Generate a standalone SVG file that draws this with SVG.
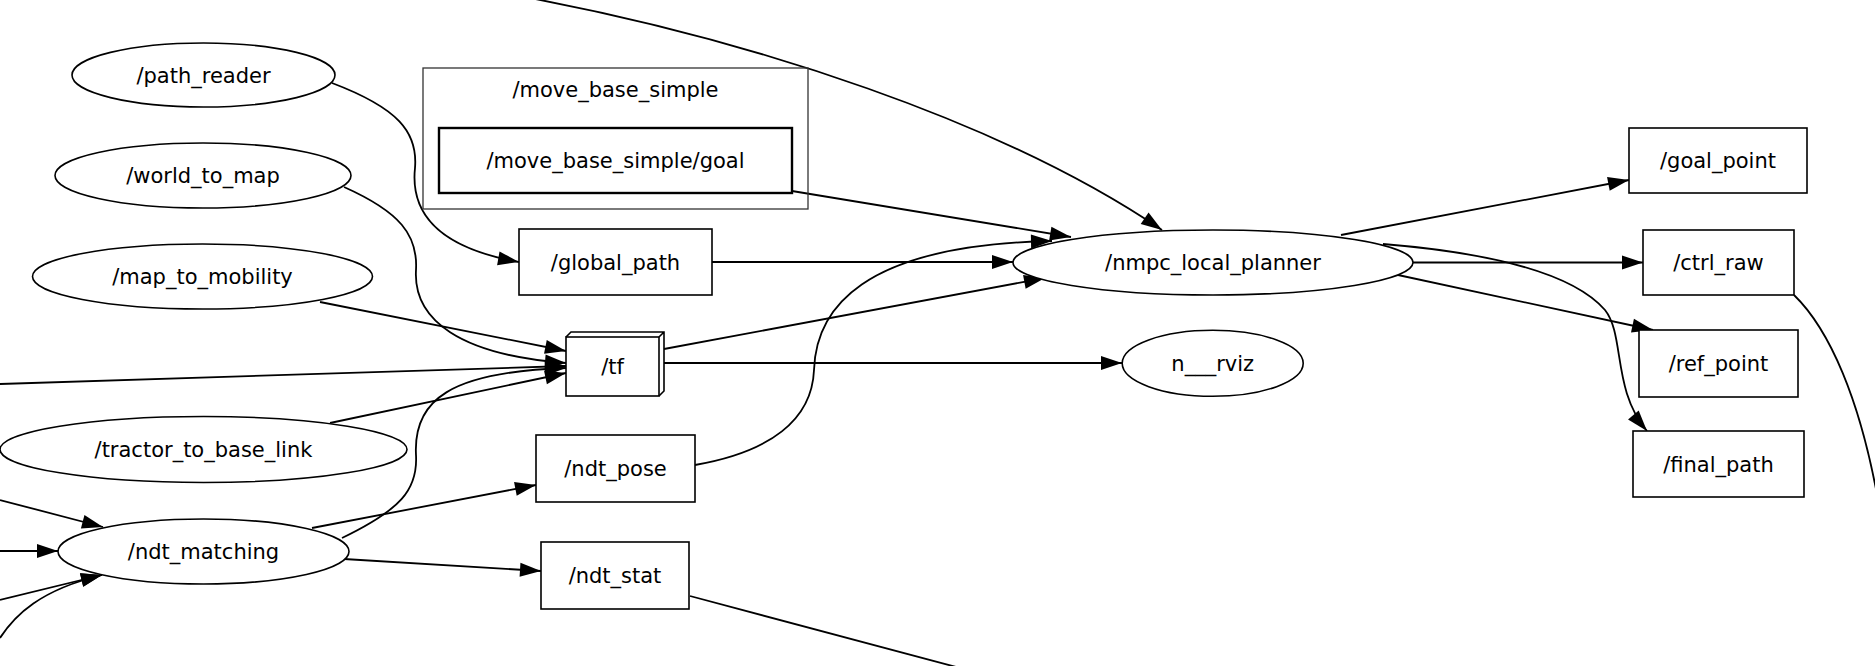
<svg xmlns="http://www.w3.org/2000/svg" width="1875" height="666" viewBox="0 0 1875 666">
<defs>
<marker id="arr" markerUnits="userSpaceOnUse" markerWidth="21" markerHeight="14" refX="21" refY="7" orient="auto" overflow="visible">
<path d="M0,0 L21,7 L0,14 z" fill="#000"/>
</marker>
<style>
.n{fill:#fff;stroke:#000;stroke-width:1.6}
.t{font-family:"DejaVu Sans",sans-serif;font-size:21px;fill:#000;text-anchor:middle}
.e{fill:none;stroke:#000;stroke-width:1.8}
.a{marker-end:url(#arr)}
</style>
</defs>
<rect width="1875" height="666" fill="#fff"/>

<g id="connectors">
<path class="e" d="M530,-2 C750,40 1000,120 1162,230" marker-end="url(#arr)"/>
<path class="e" d="M332,83 C398,108 418,132 415,168 C410,215 440,248 519,262" marker-end="url(#arr)"/>
<path class="e" d="M344,187 C400,212 418,235 416,270 C413,320 460,355 566,363" marker-end="url(#arr)"/>
<path class="e" d="M320,302 L566,351" marker-end="url(#arr)"/>
<path class="e" d="M0,384 L566,366" marker-end="url(#arr)"/>
<path class="e" d="M330,423 L566,373" marker-end="url(#arr)"/>
<path class="e" d="M342,538 C400,510 418,490 416,455 C413,400 450,372 566,368" marker-end="url(#arr)"/>
<path class="e" d="M312,528 L536,485" marker-end="url(#arr)"/>
<path class="e" d="M344,559 L541,571" marker-end="url(#arr)"/>
<path class="e" d="M0,500 L103,527" marker-end="url(#arr)"/>
<path class="e" d="M0,551 L58,551" marker-end="url(#arr)"/>
<path class="e" d="M0,600 L102,575" marker-end="url(#arr)"/>
<path class="e" d="M0,638 C15,615 40,590 102,575" marker-end="url(#arr)"/>
<path class="e" d="M695,465 C770,452 812,420 814,370 C816,310 860,245 1052,241" marker-end="url(#arr)"/>
<path class="e" d="M664,349 L1045,278" marker-end="url(#arr)"/>
<path class="e" d="M664,363 L1122,363" marker-end="url(#arr)"/>
<path class="e" d="M712,262 L1013,262" marker-end="url(#arr)"/>
<path class="e" d="M792,191 L1071,237" marker-end="url(#arr)"/>
<path class="e" d="M1341,235 L1629,180" marker-end="url(#arr)"/>
<path class="e" d="M1413,262.5 L1643,262.5" marker-end="url(#arr)"/>
<path class="e" d="M1398,275 L1653,330" marker-end="url(#arr)"/>
<path class="e" d="M1383,244 C1480,252 1570,270 1605,310 C1625,335 1612,390 1647,431" marker-end="url(#arr)"/>
<path class="e" d="M1794,295 C1830,330 1860,400 1878,500"/>
<path class="e" d="M690,596 L960,668"/>
</g>

<g id="path_reader"><ellipse class="n" cx="203.5" cy="75" rx="131.5" ry="32"/><text class="t" x="203.5" y="82.5">/path_reader</text></g>
<g id="world_to_map"><ellipse class="n" cx="203" cy="175.5" rx="148" ry="32.5"/><text class="t" x="203" y="183">/world_to_map</text></g>
<g id="map_to_mobility"><ellipse class="n" cx="202.5" cy="276.5" rx="170" ry="32.5"/><text class="t" x="202.5" y="284">/map_to_mobility</text></g>
<g id="tractor_to_base_link"><ellipse class="n" cx="203.5" cy="449.5" rx="203.5" ry="33"/><text class="t" x="203.5" y="457">/tractor_to_base_link</text></g>
<g id="ndt_matching"><ellipse class="n" cx="203.5" cy="551.5" rx="145.5" ry="32.5"/><text class="t" x="203.5" y="559">/ndt_matching</text></g>

<g id="move_base_simple"><rect x="423" y="68" width="385" height="141" fill="none" stroke="#333" stroke-width="1.3"/><text class="t" x="615.5" y="97">/move_base_simple</text></g>
<g id="move_base_simple_goal"><rect x="439" y="128" width="353" height="65" fill="#fff" stroke="#000" stroke-width="2.4"/><text class="t" x="615.5" y="168">/move_base_simple/goal</text></g>
<g id="global_path"><rect class="n" x="519" y="229" width="193" height="66"/><text class="t" x="615.5" y="269.5">/global_path</text></g>
<g id="tf"><rect class="n" x="566" y="337" width="93" height="59"/><path d="M566,337 L571,332 L664,332 L664,391 L659,396 M659,337 L664,332" fill="none" stroke="#000" stroke-width="1.6"/><text class="t" x="612.5" y="374">/tf</text></g>
<g id="ndt_pose"><rect class="n" x="536" y="435" width="159" height="67"/><text class="t" x="615.5" y="476">/ndt_pose</text></g>
<g id="ndt_stat"><rect class="n" x="541" y="542" width="148" height="67"/><text class="t" x="615" y="583">/ndt_stat</text></g>
<g id="nmpc_local_planner"><ellipse class="n" cx="1213" cy="262.5" rx="200" ry="32.5"/><text class="t" x="1213" y="270">/nmpc_local_planner</text></g>
<g id="n___rviz"><ellipse class="n" cx="1212.7" cy="363.3" rx="90.5" ry="33"/><text class="t" x="1212.7" y="371">n___rviz</text></g>
<g id="goal_point"><rect class="n" x="1629" y="128" width="178" height="65"/><text class="t" x="1718" y="168">/goal_point</text></g>
<g id="ctrl_raw"><rect class="n" x="1643" y="230" width="151" height="65"/><text class="t" x="1718.5" y="270">/ctrl_raw</text></g>
<g id="ref_point"><rect class="n" x="1639" y="330" width="159" height="67"/><text class="t" x="1718.5" y="371">/ref_point</text></g>
<g id="final_path"><rect class="n" x="1633" y="431" width="171" height="66"/><text class="t" x="1718.5" y="471.5">/final_path</text></g>
</svg>
